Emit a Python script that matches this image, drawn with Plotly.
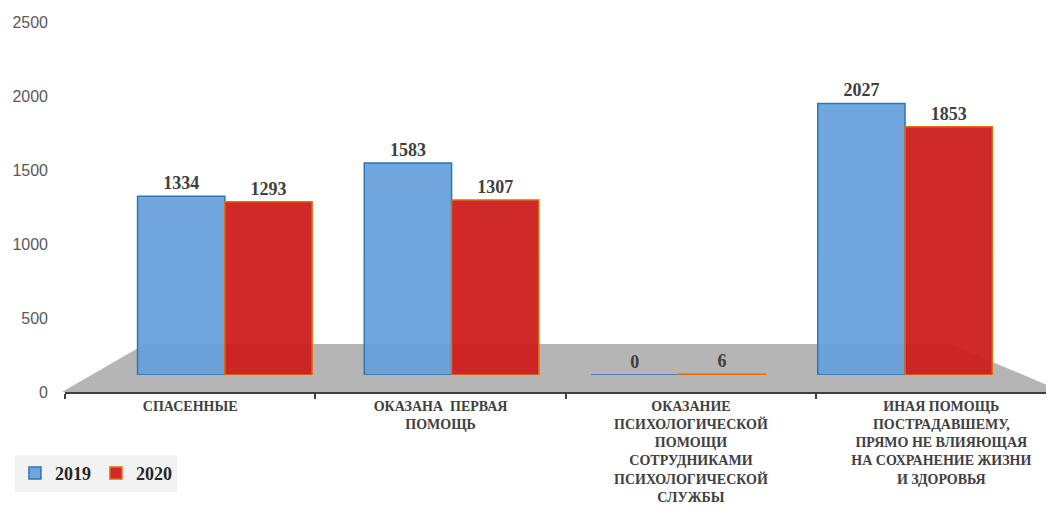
import plotly.graph_objects as go

categories = [
    "СПАСЕННЫЕ",
    "ОКАЗАНА  ПЕРВАЯ<br>ПОМОЩЬ",
    "ОКАЗАНИЕ<br>ПСИХОЛОГИЧЕСКОЙ<br>ПОМОЩИ<br>СОТРУДНИКАМИ<br>ПСИХОЛОГИЧЕСКОЙ<br>СЛУЖБЫ",
    "ИНАЯ ПОМОЩЬ<br>ПОСТРАДАВШЕМУ,<br>ПРЯМО НЕ ВЛИЯЮЩАЯ<br>НА СОХРАНЕНИЕ ЖИЗНИ<br>И ЗДОРОВЬЯ",
]
values_2019 = [1334, 1583, 0, 2027]
values_2020 = [1293, 1307, 6, 1853]
y_ticks = [0, 500, 1000, 1500, 2000, 2500]

serif = "Liberation Serif"
label_font = dict(family=serif, size=18, color="#404040", weight="bold")

fig = go.Figure()
# invisible carrier for the category axis (labels/ticks)
fig.add_trace(go.Scatter(x=categories, y=[0] * len(categories), mode="markers",
                         marker=dict(opacity=0), showlegend=False, hoverinfo="skip",
                         xaxis="x", yaxis="y"))
# bars drawn on a perspective-like inner axis pair
fig.add_trace(go.Bar(
    name="2019", x=categories, y=values_2019, xaxis="x2", yaxis="y2",
    marker=dict(color="rgba(100,160,220,0.92)", line=dict(color="#2E75B6", width=1.5)),
    text=[str(v) for v in values_2019], textposition="outside", cliponaxis=False,
    textfont=label_font,
))
fig.add_trace(go.Bar(
    name="2020", x=categories, y=values_2020, xaxis="x2", yaxis="y2",
    marker=dict(color="rgba(205,30,30,0.95)", line=dict(color="#E46C0A", width=1.5)),
    text=[str(v) for v in values_2020], textposition="outside", cliponaxis=False,
    textfont=label_font,
))

# grey floor (decoration)
fig.add_shape(type="path", xref="paper", yref="paper", layer="below",
              path="M -0.003 0 L 0.081 0.13 L 0.895 0.13 L 1.0 0.011 L 1.0 0 Z",
              fillcolor="#B5B5B5", line=dict(width=0))

fig.update_layout(
    width=1046, height=502,
    margin=dict(l=57, r=0, t=14, b=118),
    paper_bgcolor="white", plot_bgcolor="rgba(0,0,0,0)",
    barmode="group", bargap=0.23, bargroupgap=0,
    showlegend=True,
    legend=dict(orientation="h", x=-0.0506, y=-0.17, xanchor="left", yanchor="top",
                bgcolor="#F2F2F2", font=dict(family=serif, size=18, color="#262626", weight="bold"),
                itemwidth=30, tracegroupgap=0),
    xaxis=dict(range=[-0.5, 3.45], tickson="boundaries", ticks="outside", ticklen=5,
               tickcolor="#404040", tickwidth=2,
               showline=True, linecolor="#404040", linewidth=2,
               tickfont=dict(family=serif, size=14, color="#404040", weight="bold"),
               tickangle=0, showgrid=False, automargin=False),
    yaxis=dict(range=[0, 2500], tickvals=y_ticks, showgrid=False, zeroline=False,
               showline=False, ticks="", ticklabelstandoff=16,
               tickfont=dict(family="Liberation Sans", size=16, color="#595959")),
    xaxis2=dict(domain=[0.047, 0.964], anchor="y2", range=[-0.5, 3.5], visible=False),
    yaxis2=dict(domain=[0.046, 0.951], anchor="x2", range=[0, 2500], visible=False),
)

fig.write_html("out.html")
